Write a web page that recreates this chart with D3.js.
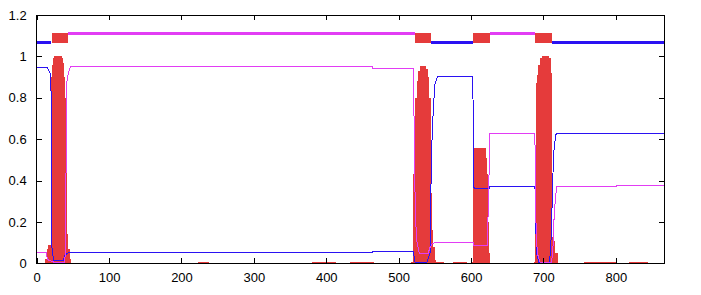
<!DOCTYPE html>
<html>
<head>
<meta charset="utf-8">
<script src="https://cdn.jsdelivr.net/npm/d3@7"></script>
<style>
  body { margin: 0; background: #fff; }
  svg { display: block; }
  text { font-family: "Liberation Sans", Arial, sans-serif; font-size: 13px; fill: #000; }
</style>
</head>
<body>
<svg id="chart"></svg>
<script>
// tick labels
var xTicks = [0, 100, 200, 300, 400, 500, 600, 700, 800]
var yTicks = [0, 0.2, 0.4, 0.6, 0.8, 1, 1.2]

// red filled series (step values)
var redX = [0, 12, 14, 16, 20, 21, 23, 24.5, 35, 36, 37.5, 39, 40.5, 42, 43.5, 45.5, 47,
  223.5, 238, 381, 414, 433, 466,
  517, 520, 521.5, 523, 525, 527, 529, 538, 540, 542, 544.5, 545.5, 546.5, 548, 550, 552, 562,
  575, 595,
  602, 603, 604, 620.5, 622, 623.5, 625, 626.5,
  686.5, 688.3, 689.7, 691.5, 692.9, 695.2, 697.5, 708, 710, 711.5, 713, 716, 720.5,
  756, 801, 818, 844, 867]
var redY = [0, 0.02, 0.07, 0.09, 0.9, 0.96, 0.99, 1.0, 0.99, 0.97, 0.9, 0.8, 0.65, 0.14, 0.07, 0.02, 0,
  0.008, 0, 0.008, 0, 0.008, 0,
  0.008, 0.43, 0.6, 0.8, 0.88, 0.93, 0.955, 0.94, 0.9, 0.8, 0.34, 0.24, 0.16, 0.08, 0.015, 0.008, 0,
  0.008, 0,
  0.008, 0.5, 0.555, 0.51, 0.43, 0.2, 0.05, 0,
  0.008, 0.18, 0.87, 0.91, 0.96, 0.99, 1.0, 0.99, 0.92, 0.127, 0.11, 0.05, 0,
  0.008, 0, 0.008, 0, 0]

// thin blue series
var blueX = [0, 14, 16, 18.5, 20, 20.5, 22, 23.5, 37, 39, 43, 46.5, 464, 464.5,
  520.4, 521.8, 523, 538.8, 539.7, 542.5, 544, 545, 548, 550.3, 552.7, 555,
  602.3, 602.8, 603.5, 605, 625.3, 626.2, 688.3, 689.5, 690.5, 694,
  708, 710, 711.4, 712.8, 714.6, 716.9, 719.1, 867]
var blueY = [0.947, 0.947, 0.937, 0.918, 0.82, 0.095, 0.047, 0.015, 0.015, 0.04, 0.05, 0.052, 0.052, 0.057,
  0.057, 0.02, 0.003, 0.003, 0.01, 0.04, 0.06, 0.5, 0.755, 0.868, 0.894, 0.905,
  0.905, 0.78, 0.369, 0.363, 0.363, 0.373, 0.373, 0.176, 0.05, 0.003,
  0.003, 0.06, 0.2, 0.4, 0.547, 0.62, 0.628, 0.628]

// thin magenta series
var magentaX = [0, 13.4, 14.5, 16.5, 23.5, 39, 39.6, 41.9, 44.2, 46.5, 464, 464.5,
  520.4, 521.8, 523, 525, 528.2, 529.6, 541, 542.5, 545.7, 550.3,
  603.2, 604, 622.5, 624, 626.2, 687, 688.3, 689.7, 691.5, 695.2,
  711.4, 713.6, 715, 718.3, 801, 801.5, 867]
var magentaY = [0.053, 0.053, 0.023, 0.015, 0.006, 0.006, 0.145, 0.885, 0.926, 0.95, 0.95, 0.942,
  0.942, 0.56, 0.24, 0.11, 0.055, 0.047, 0.047, 0.07, 0.092, 0.1,
  0.1, 0.087, 0.087, 0.3, 0.628, 0.628, 0.6, 0.2, 0.05, 0.006,
  0.006, 0.1, 0.25, 0.373, 0.373, 0.377, 0.377]

// state bars along the top
var stateX = [0, 20, 21, 43.5, 522, 545, 603, 626, 688, 711.5, 867]
var stateType = ["blue", "none", "red", "magenta", "red", "blue", "red", "magenta", "red", "blue"]
var stateLevel = { blue: 1.068, magenta: 1.111, red: 1.09 }

var width = 701,
  height = 295

var colors = {
  red: "#e53b3b",
  blue: "#2a12f2",
  magenta: "#e23df4"
}

var svg = d3.select("#chart")
  .attr("width", width)
  .attr("height", height)

var x = d3.scaleLinear()
  .domain([0, 867])
  .range([36.7, 664.3])

var y = d3.scaleLinear()
  .domain([0, 1.2])
  .range([263.3, 15])

function zipSeries(xs, ys) {
  return xs.map(function (v, i) {
    return { x: v, y: ys[i] }
  })
}

/*
 * Red filled peaks
 */

var area = d3.area()
  .curve(d3.curveStepAfter)
  .x(function (d) { return x(d.x) })
  .y0(y(0))
  .y1(function (d) { return y(d.y) })

svg.append("path")
  .datum(zipSeries(redX, redY))
  .attr("d", area)
  .style("fill", colors.red)
  .style("shape-rendering", "crispEdges")

/*
 * Thin lines
 */

var line = d3.line()
  .x(function (d) { return x(d.x) })
  .y(function (d) { return y(d.y) })

svg.append("path")
  .datum(zipSeries(blueX, blueY))
  .attr("d", line)
  .style("fill", "none")
  .style("stroke", colors.blue)
  .style("stroke-width", 1)
  .style("shape-rendering", "crispEdges")

svg.append("path")
  .datum(zipSeries(magentaX, magentaY))
  .attr("d", line)
  .style("fill", "none")
  .style("stroke", colors.magenta)
  .style("stroke-width", 1)
  .style("shape-rendering", "crispEdges")

/*
 * State bars
 */

var states = stateType.map(function (t, i) {
  return { type: t, x0: stateX[i], x1: stateX[i + 1] }
}).filter(function (d) { return d.type !== "none" })

svg.selectAll("line.state")
  .data(states.filter(function (d) { return d.type !== "red" }))
  .enter()
  .append("line")
  .attr("class", "state")
  .attr("x1", function (d) { return x(d.x0) })
  .attr("x2", function (d) { return x(d.x1) })
  .attr("y1", function (d) { return y(stateLevel[d.type]) })
  .attr("y2", function (d) { return y(stateLevel[d.type]) })
  .style("stroke", function (d) { return colors[d.type] })
  .style("stroke-width", 3)
  .style("shape-rendering", "crispEdges")

svg.selectAll("rect.state")
  .data(states.filter(function (d) { return d.type === "red" }))
  .enter()
  .append("rect")
  .attr("class", "state")
  .attr("x", function (d) { return x(d.x0) })
  .attr("width", function (d) { return x(d.x1) - x(d.x0) })
  .attr("y", y(stateLevel.red + 0.024))
  .attr("height", y(stateLevel.red - 0.024) - y(stateLevel.red + 0.024))
  .style("fill", colors.red)
  .style("shape-rendering", "crispEdges")

/*
 * Axes and frame
 */

svg.append("g")
  .attr("transform", "translate(0," + y(0) + ")")
  .call(d3.axisBottom(x).tickValues(xTicks).tickSize(-5).tickPadding(9).tickFormat(d3.format("d")))
  .call(function (g) { g.select(".domain").remove() })

svg.append("g")
  .attr("transform", "translate(0," + y(1.2) + ")")
  .call(d3.axisTop(x).tickValues(xTicks).tickSize(-5).tickFormat(""))
  .call(function (g) { g.select(".domain").remove() })

svg.append("g")
  .attr("transform", "translate(" + x(0) + ",0)")
  .call(d3.axisLeft(y).tickValues(yTicks).tickSize(-5).tickPadding(10).tickFormat(d3.format("~g")))
  .call(function (g) { g.select(".domain").remove() })

svg.append("g")
  .attr("transform", "translate(" + x(867) + ",0)")
  .call(d3.axisRight(y).tickValues(yTicks).tickSize(-5).tickFormat(""))
  .call(function (g) { g.select(".domain").remove() })

svg.selectAll(".tick text")
  .attr("font-family", null)
  .attr("font-size", null)
  .style("fill", "#000")

svg.selectAll(".tick line")
  .style("stroke", "#000")
  .style("shape-rendering", "crispEdges")

svg.append("rect")
  .attr("x", x(0))
  .attr("y", y(1.2))
  .attr("width", x(867) - x(0))
  .attr("height", y(0) - y(1.2))
  .style("fill", "none")
  .style("stroke", "#000")
  .style("stroke-width", 1)
  .style("shape-rendering", "crispEdges")
</script>
</body>
</html>
